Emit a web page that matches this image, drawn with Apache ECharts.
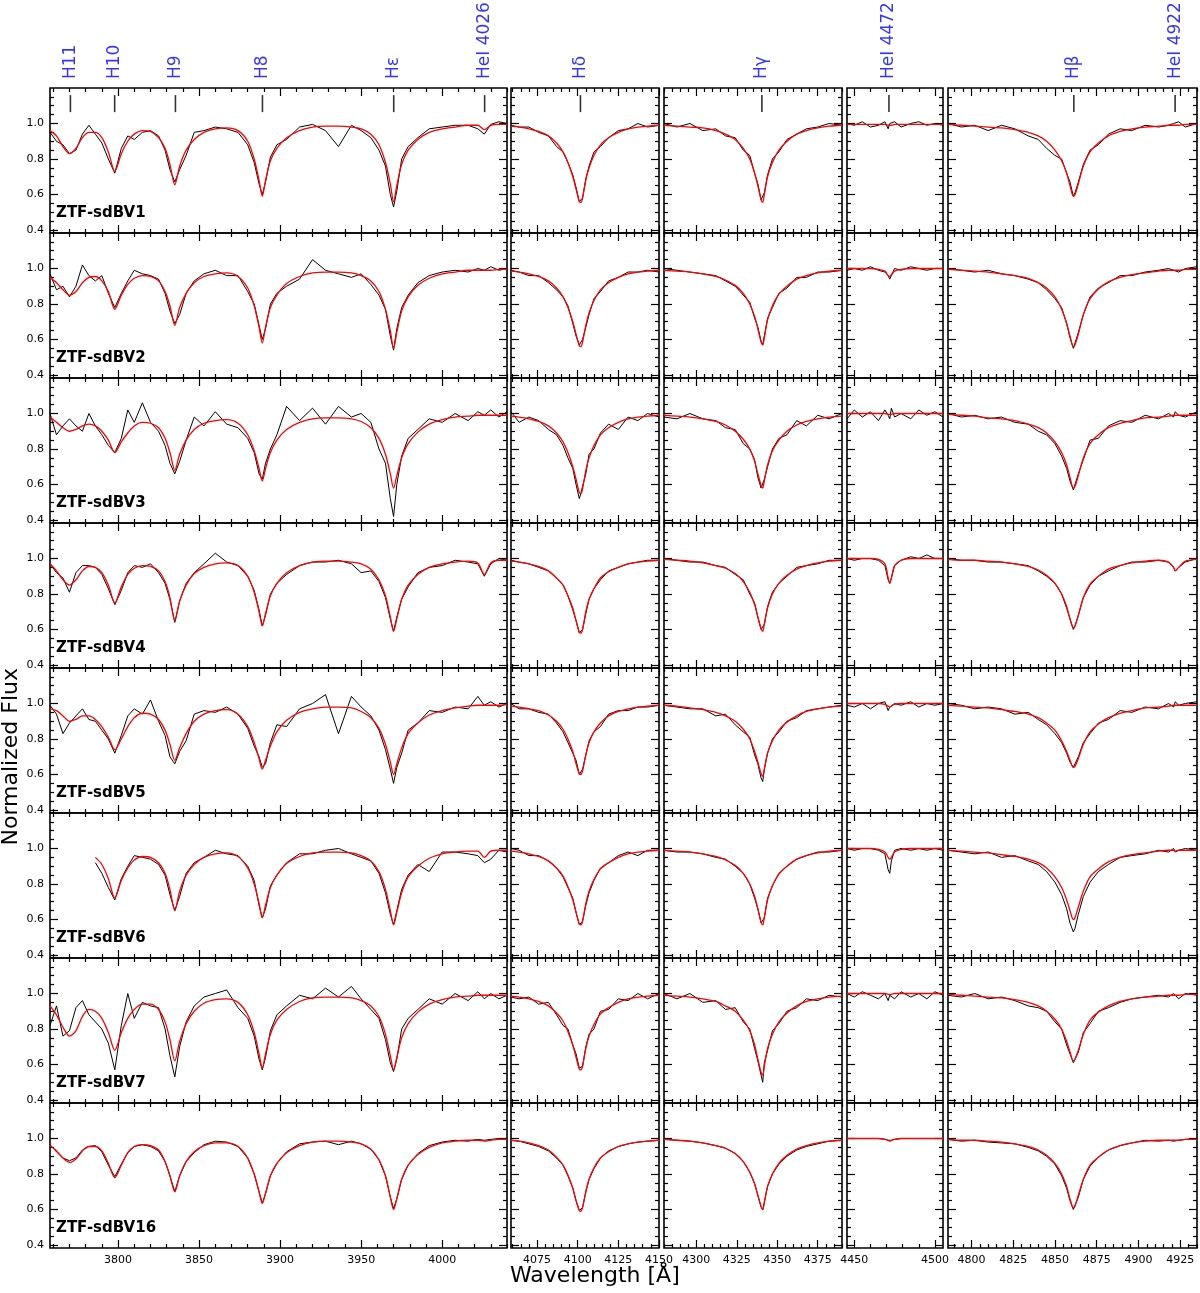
<!DOCTYPE html>
<html><head><meta charset="utf-8">
<script src="https://cdn.jsdelivr.net/npm/echarts@6/dist/echarts.min.js"></script>
<style>html,body{margin:0;padding:0;background:#fff}#c{width:1200px;height:1293px}</style>
</head><body><div id="c"></div>
<script>
// ---- data ----
const starNames = ["ZTF-sdBV1","ZTF-sdBV2","ZTF-sdBV3","ZTF-sdBV4","ZTF-sdBV5","ZTF-sdBV6","ZTF-sdBV7","ZTF-sdBV16"];
const xRanges = [[3758,4040],[4059,4150],[4280,4390],[4445.5,4505],[4786,4935]];
const majorTicks = [[3800,3850,3900,3950,4000],[4075,4100,4125,4150],[4300,4325,4350,4375],[4450,4500],[4800,4825,4850,4875,4900,4925]];
const yTickLabels = [0.4,0.6,0.8,1.0];
const lineNames = [["H11","H10","H9","H8","Hε","HeI 4026"],["Hδ"],["Hγ"],["HeI 4472"],["Hβ","HeI 4922"]];
const lineWaves = [[3770.6,3797.9,3835.4,3889.1,3970.1,4026.2],[4101.7],[4340.5],[4471.5],[4861.3,4921.9]];

const W1 = [3758,3762,3766,3770,3774,3778,3782,3786,3790,3794,3798,3802,3806,3810,3815,3820,3825,3829,3832,3835,3838,3842,3847,3853,3860,3867,3874,3880,3884,3887,3889,3891,3894,3898,3904,3912,3920,3928,3936,3944,3950,3956,3961,3965,3968,3970,3972,3975,3979,3985,3992,4000,4008,4016,4022,4026,4030,4035,4040];
const W2 = [4059,4064,4070,4076,4082,4087,4091,4094,4097,4099,4101,4102,4103,4105,4107,4110,4114,4119,4125,4131,4137,4143,4150];
const W3 = [4280,4288,4296,4304,4312,4318,4324,4329,4333,4336,4338,4340,4341,4342,4344,4347,4351,4356,4362,4368,4375,4382,4390];
const W4 = [4445.5,4450,4455,4460,4465,4469,4471,4472,4473,4475,4479,4485,4490,4495,4500,4505];
const W5 = [4786,4794,4802,4810,4818,4826,4834,4840,4845,4850,4854,4857,4859,4861,4862,4864,4867,4871,4876,4882,4889,4896,4904,4912,4918,4921,4922,4924,4928,4935];

const model1 = [
[.96,.93,.87,.83,.86,.92,.95,.95,.92,.84,.73,.83,.90,.94,.96,.955,.92,.86,.77,.655,.76,.85,.91,.95,.97,.975,.96,.90,.80,.68,.59,.68,.79,.86,.92,.96,.98,.985,.985,.98,.97,.94,.88,.78,.66,.56,.65,.77,.85,.91,.95,.97,.98,.99,.99,.965,.99,.995,.995],
[.95,.92,.88,.85,.87,.92,.95,.955,.93,.87,.77,.85,.91,.945,.96,.955,.93,.87,.79,.68,.78,.86,.92,.955,.97,.975,.955,.89,.79,.67,.58,.67,.78,.85,.915,.955,.975,.98,.98,.975,.96,.93,.87,.77,.65,.55,.64,.76,.84,.905,.945,.97,.98,.99,.99,.99,.99,.995,.995],
[.98,.95,.92,.90,.91,.93,.94,.93,.90,.85,.78,.84,.89,.93,.95,.945,.92,.86,.78,.68,.77,.85,.91,.945,.96,.965,.945,.88,.79,.69,.62,.69,.78,.85,.91,.95,.97,.975,.975,.97,.955,.92,.86,.77,.66,.58,.65,.75,.83,.895,.94,.965,.98,.985,.99,.99,.99,.99,.99],
[.97,.93,.88,.85,.88,.93,.955,.95,.92,.85,.75,.84,.91,.945,.96,.955,.93,.87,.78,.65,.76,.85,.915,.95,.97,.975,.96,.90,.81,.70,.62,.69,.79,.86,.92,.96,.98,.985,.985,.98,.97,.94,.88,.79,.67,.59,.66,.77,.85,.91,.95,.97,.98,.985,.975,.91,.975,.99,.99],
[.97,.96,.93,.90,.91,.93,.93,.91,.87,.81,.74,.80,.87,.92,.945,.94,.91,.85,.77,.68,.75,.83,.90,.94,.96,.965,.94,.87,.78,.69,.63,.68,.76,.84,.905,.95,.97,.98,.98,.975,.955,.92,.86,.77,.67,.60,.66,.75,.83,.89,.935,.96,.975,.985,.99,.99,.99,.99,.995],
[null,null,null,null,null,null,null,.95,.91,.83,.72,.82,.89,.935,.955,.95,.92,.86,.77,.65,.76,.85,.91,.95,.97,.975,.955,.89,.80,.69,.61,.68,.78,.85,.915,.955,.975,.98,.98,.975,.96,.93,.87,.77,.65,.57,.64,.75,.84,.90,.945,.97,.98,.985,.985,.95,.985,.99,.99],
[.93,.88,.81,.76,.79,.87,.91,.90,.86,.78,.68,.78,.86,.91,.94,.94,.91,.84,.74,.62,.73,.83,.90,.945,.965,.97,.95,.88,.78,.66,.58,.66,.77,.85,.91,.955,.975,.98,.98,.975,.96,.93,.87,.77,.65,.57,.64,.75,.83,.895,.94,.965,.98,.985,.99,.99,.99,.99,.99],
[.96,.93,.89,.865,.885,.93,.955,.955,.93,.86,.78,.85,.92,.955,.965,.96,.935,.87,.79,.70,.79,.87,.925,.96,.975,.975,.955,.89,.80,.70,.635,.69,.79,.86,.92,.96,.98,.985,.985,.98,.97,.94,.88,.79,.67,.60,.66,.77,.85,.91,.95,.975,.985,.99,.99,.985,.99,.995,.995]
];
const obs1 = [
[.95,.90,.88,.83,.85,.94,.99,.94,.89,.80,.72,.86,.93,.91,.95,.96,.93,.85,.74,.67,.74,.82,.95,.96,.98,.97,.95,.88,.78,.66,.60,.67,.81,.88,.91,.98,.995,.96,.87,.99,.96,.92,.85,.76,.60,.53,.62,.80,.87,.92,.97,.98,.99,.99,.97,.94,.995,1.01,1.0],
[.97,.88,.90,.84,.90,1.02,.96,.93,.96,.86,.78,.86,.93,.99,.97,.96,.94,.86,.76,.69,.74,.86,.93,.97,.99,.96,.96,.87,.80,.68,.60,.66,.80,.86,.90,.94,1.05,.99,.97,.95,.97,.91,.85,.77,.62,.54,.66,.78,.85,.92,.96,.98,.99,.98,1.0,.99,1.01,.99,1.0],
[1.0,.88,.93,.97,.93,.90,1.0,.93,.88,.82,.78,.86,1.02,.95,1.06,.95,.90,.82,.72,.66,.73,.85,.98,.93,1.01,.94,.92,.86,.78,.66,.63,.72,.80,.88,1.04,.96,1.03,.94,1.04,.98,1.0,.95,.80,.72,.52,.42,.60,.76,.86,.91,.97,.95,1.0,.96,1.01,.99,1.02,.98,1.01],
[.97,.92,.89,.81,.92,.96,.96,.95,.91,.83,.74,.82,.92,.96,.95,.97,.92,.86,.77,.64,.76,.86,.92,.97,1.03,.98,.96,.90,.82,.71,.62,.68,.80,.86,.91,.96,.98,.98,.99,.97,.92,.93,.87,.78,.66,.59,.67,.77,.84,.92,.95,.96,.99,.98,.97,.90,.97,1.0,.99],
[.99,.94,.83,.89,.93,.97,.91,.90,.85,.80,.72,.82,.93,.97,.94,1.02,.90,.82,.70,.66,.73,.79,.94,.96,.95,.98,.94,.86,.76,.70,.64,.66,.78,.88,.87,.97,1.0,1.05,.83,1.04,.98,.93,.85,.74,.63,.55,.64,.72,.85,.89,.96,.95,.98,.97,1.04,.99,1.01,.98,1.0],
[null,null,null,null,null,null,null,.92,.86,.78,.71,.83,.90,.96,.95,.94,.91,.85,.74,.65,.73,.86,.92,.95,.99,.97,.96,.90,.82,.68,.61,.66,.79,.85,.92,.97,.97,.99,1.0,.97,.95,.93,.86,.75,.63,.57,.65,.77,.85,.91,.87,.98,.98,.97,.96,.92,.94,.99,.98],
[.82,.93,.76,.79,.92,.96,.88,.84,.80,.72,.57,.82,1.0,.86,.95,.93,.92,.80,.65,.53,.70,.84,.93,.98,1.0,1.02,.92,.86,.76,.63,.57,.64,.79,.88,.93,.99,.97,1.03,.98,1.04,.97,.91,.86,.74,.61,.56,.63,.80,.86,.91,.97,.94,1.0,.96,1.01,.97,1.0,.97,.99],
[.965,.925,.89,.875,.89,.935,.955,.96,.925,.85,.785,.855,.92,.955,.965,.955,.93,.87,.79,.70,.79,.87,.92,.965,.985,.98,.955,.89,.80,.70,.635,.69,.79,.86,.925,.97,.98,.985,.965,.985,.97,.94,.88,.79,.67,.605,.66,.77,.85,.915,.96,.98,.99,.985,.995,.99,.995,1.0,1.0]
];
const model2 = [
[.985,.98,.97,.955,.93,.89,.84,.78,.70,.63,.56,.555,.58,.68,.75,.82,.88,.92,.95,.97,.98,.985,.99],
[.985,.98,.97,.955,.93,.89,.84,.78,.70,.63,.565,.56,.585,.68,.75,.82,.88,.92,.95,.97,.98,.985,.99],
[.985,.98,.97,.955,.93,.89,.84,.78,.70,.63,.555,.55,.575,.68,.75,.82,.88,.92,.95,.97,.98,.985,.99],
[.985,.98,.97,.955,.93,.89,.85,.79,.72,.65,.585,.58,.60,.70,.77,.83,.89,.925,.95,.97,.98,.985,.99],
[.985,.98,.97,.96,.935,.90,.855,.80,.73,.66,.605,.60,.62,.71,.78,.84,.89,.93,.955,.97,.98,.985,.99],
[.985,.98,.97,.955,.93,.89,.845,.785,.71,.64,.575,.57,.59,.69,.76,.825,.885,.92,.95,.97,.98,.985,.99],
[.985,.98,.97,.955,.93,.89,.845,.785,.71,.64,.575,.57,.59,.69,.76,.825,.885,.92,.95,.97,.98,.985,.99],
[.99,.985,.975,.96,.935,.895,.85,.795,.72,.65,.595,.59,.61,.70,.77,.835,.89,.925,.955,.97,.98,.985,.99]
];
const obs2 = [
[.99,.98,.98,.95,.93,.87,.84,.78,.71,.64,.56,.56,.58,.69,.76,.84,.87,.92,.96,.97,1.0,.98,.99],
[.99,.98,.96,.96,.92,.88,.84,.79,.69,.62,.57,.56,.60,.67,.74,.83,.87,.93,.95,.98,.98,.99,.98],
[1.01,.95,.98,.96,.91,.88,.82,.75,.69,.60,.52,.55,.59,.66,.77,.80,.89,.94,.91,.98,.96,1.0,.98],
[.99,.98,.97,.95,.93,.89,.85,.79,.71,.65,.58,.58,.60,.69,.77,.83,.88,.93,.95,.97,.98,.99,.99],
[1.0,.97,.97,.95,.94,.89,.84,.78,.72,.68,.60,.60,.63,.71,.79,.84,.87,.94,.96,.96,.98,.98,.99],
[1.0,.99,.96,.96,.93,.89,.84,.78,.72,.64,.57,.57,.59,.68,.75,.82,.89,.92,.96,.98,.96,.99,.99],
[.98,.97,.98,.94,.95,.88,.82,.80,.71,.66,.58,.57,.59,.70,.77,.80,.90,.91,.97,.96,1.0,.97,1.0],
[.99,.985,.97,.955,.93,.89,.85,.79,.72,.65,.595,.59,.61,.70,.77,.83,.89,.93,.955,.97,.98,.985,.99]
];
const model3 = [
[.99,.985,.98,.975,.96,.94,.91,.86,.80,.72,.65,.57,.555,.60,.70,.78,.85,.90,.94,.96,.975,.985,.99],
[.99,.985,.98,.97,.955,.935,.905,.86,.80,.73,.66,.585,.57,.61,.71,.79,.855,.90,.94,.96,.975,.985,.99],
[.99,.985,.98,.97,.955,.935,.90,.855,.80,.73,.66,.595,.58,.62,.71,.79,.85,.90,.935,.955,.97,.98,.985],
[.995,.99,.985,.975,.96,.945,.915,.87,.81,.74,.67,.605,.59,.63,.72,.80,.86,.905,.94,.96,.975,.985,.99],
[.99,.985,.975,.965,.95,.93,.90,.855,.80,.73,.67,.605,.59,.63,.72,.79,.85,.895,.93,.955,.97,.98,.985],
[.99,.985,.98,.97,.955,.935,.905,.86,.80,.73,.66,.585,.57,.61,.71,.79,.855,.90,.94,.96,.975,.985,.99],
[.99,.985,.98,.97,.955,.93,.90,.85,.79,.71,.63,.555,.54,.59,.69,.77,.84,.89,.93,.955,.97,.98,.985],
[.995,.99,.985,.975,.96,.945,.915,.87,.81,.745,.68,.615,.60,.64,.73,.80,.86,.905,.94,.96,.975,.985,.99]
];
const obs3 = [
[1.0,.98,1.0,.96,.97,.93,.92,.85,.82,.72,.66,.57,.56,.61,.71,.80,.84,.91,.94,.97,.98,1.0,.99],
[1.0,.99,.98,.97,.96,.93,.90,.85,.81,.72,.67,.59,.57,.62,.72,.78,.86,.89,.95,.95,.98,.98,.99],
[.98,.97,1.0,.97,.96,.92,.91,.83,.80,.74,.64,.58,.57,.63,.70,.80,.86,.88,.96,.93,.99,.97,1.0],
[1.0,.99,.98,.98,.96,.95,.91,.88,.80,.75,.67,.60,.59,.63,.73,.81,.86,.90,.95,.96,.97,.99,.99],
[.99,.98,.97,.97,.93,.94,.88,.84,.81,.71,.66,.58,.56,.63,.72,.80,.84,.90,.92,.96,.97,.98,.99],
[.99,.98,.98,.97,.95,.94,.90,.86,.80,.72,.66,.58,.57,.61,.72,.79,.86,.90,.94,.96,.98,.98,.99],
[1.0,.97,1.0,.95,.96,.91,.92,.84,.80,.69,.62,.54,.50,.61,.68,.79,.83,.90,.92,.97,.96,.99,.98],
[.995,.99,.985,.975,.96,.945,.915,.87,.81,.745,.68,.615,.60,.64,.73,.80,.855,.90,.935,.955,.97,.985,.99]
];
const model4 = [
[.995,.995,.995,.995,.995,.995,.99,.99,.99,.995,.995,.995,.995,.995,.995,.995],
[1,1,1,1,.995,.985,.96,.955,.965,.985,.995,1,1,1,1,1],
[1,1,1,1,1,1,.995,.995,.995,1,1,1,1,1,1,1],
[1,1,1,1,.995,.97,.89,.86,.89,.96,.99,1,1,1,1,1],
[1,1,1,1,1,.995,.985,.98,.985,.995,1,1,1,1,1,1],
[1,1,1,1,.995,.98,.95,.94,.95,.98,.995,1,1,1,1,1],
[1,1,1,1,1,1,.995,.995,.995,1,1,1,1,1,1,1],
[1,1,1,1,1,.995,.99,.985,.99,.995,1,1,1,1,1,1]
];
const obs4 = [
[1.0,.99,1.01,.98,.99,1.01,.97,1.0,.99,1.01,.98,1.0,1.01,.99,1.0,.99],
[.99,1.0,.99,1.01,.99,.98,.96,.94,.96,1.0,.99,1.01,1.0,.99,1.0,1.0],
[.97,1.02,.98,1.01,.96,1.02,.99,.97,1.03,.98,1.0,.97,1.02,.99,1.01,.98],
[1.0,.99,1.0,1.0,.99,.96,.88,.86,.89,.96,.99,1.01,1.0,1.02,1.0,1.0],
[.99,.98,1.0,.97,1.0,1.01,.96,.98,.97,1.0,.99,1.01,.98,1.0,.99,1.0],
[1.0,.99,1.0,1.0,.99,.97,.88,.86,.93,.99,1.0,.99,1.0,.99,1.0,.99],
[1.0,.98,1.01,.99,.97,1.0,.96,.99,1.0,.97,1.01,.98,1.0,.97,1.01,.99],
[1.0,1.0,1.0,1.0,1.0,.995,.99,.985,.99,.995,1.0,1.0,1.0,1.0,1.0,1.0]
];
const model5 = [
[.995,.99,.985,.98,.975,.965,.95,.93,.90,.85,.79,.72,.65,.59,.60,.66,.76,.84,.89,.93,.955,.97,.98,.985,.99,.99,.99,.99,.995,.995],
[.995,.99,.985,.98,.97,.96,.945,.92,.89,.84,.77,.69,.62,.56,.57,.63,.74,.83,.885,.925,.95,.965,.975,.985,.99,.99,.99,.99,.995,.995],
[.995,.99,.985,.975,.97,.96,.94,.92,.89,.84,.78,.71,.64,.58,.59,.65,.75,.83,.88,.92,.945,.96,.975,.98,.985,.99,.99,.99,.99,.99],
[.995,.99,.99,.985,.98,.97,.955,.935,.905,.86,.80,.73,.66,.61,.62,.68,.78,.855,.90,.94,.96,.975,.985,.99,.98,.95,.93,.95,.985,.995],
[.99,.985,.98,.975,.965,.955,.94,.92,.89,.85,.79,.73,.68,.64,.645,.69,.77,.84,.885,.92,.945,.96,.975,.98,.985,.99,.99,.99,.99,.99],
[.99,.985,.98,.975,.965,.955,.94,.92,.89,.84,.78,.71,.65,.60,.61,.67,.76,.84,.885,.925,.95,.965,.975,.985,.99,.99,.985,.99,.99,.99],
[.995,.99,.985,.98,.975,.965,.95,.93,.90,.855,.80,.73,.67,.62,.63,.68,.77,.85,.895,.93,.955,.97,.98,.985,.99,.99,.99,.99,.995,.995],
[.995,.99,.99,.985,.98,.97,.955,.935,.905,.86,.80,.73,.66,.61,.62,.68,.77,.85,.895,.935,.96,.975,.985,.99,.99,.99,.99,.99,.995,.995]
];
const obs5 = [
[1.0,.98,.99,.96,.99,.97,.93,.91,.86,.82,.80,.72,.67,.59,.61,.67,.77,.85,.88,.94,.97,.96,.99,.98,.99,1.0,.99,1.01,.98,1.0],
[1.0,.99,.98,.99,.97,.96,.94,.92,.88,.83,.78,.69,.61,.55,.56,.64,.74,.84,.89,.92,.96,.96,.98,.99,1.0,.99,1.0,.98,1.0,1.01],
[1.0,.98,.99,.97,.98,.95,.94,.90,.88,.83,.76,.69,.62,.57,.58,.66,.74,.85,.86,.93,.96,.95,.99,.97,1.0,.98,1.01,.99,.98,1.01],
[1.0,.99,.99,.98,.98,.97,.96,.93,.90,.86,.80,.72,.66,.60,.62,.68,.78,.85,.90,.93,.96,.98,.98,.99,.98,.95,.93,.95,.98,1.0],
[1.0,.99,.97,.98,.97,.94,.95,.91,.88,.83,.78,.72,.67,.64,.64,.70,.78,.83,.89,.91,.96,.95,.98,.97,1.0,.98,1.01,.99,1.0,1.01],
[.99,.98,.97,.98,.95,.96,.93,.91,.87,.81,.74,.66,.58,.53,.55,.63,.73,.81,.87,.91,.95,.96,.97,.99,.98,1.0,.98,.99,1.0,.99],
[.99,.98,1.0,.97,.98,.96,.93,.92,.90,.84,.80,.71,.66,.61,.62,.67,.78,.83,.90,.92,.95,.97,.98,.99,.98,1.0,.99,.97,1.0,.99],
[.995,.985,.99,.98,.975,.97,.95,.93,.90,.855,.79,.72,.65,.60,.61,.67,.77,.845,.895,.935,.96,.975,.99,.985,.99,.985,.99,.99,.995,1.0]
];

// ---- layout ----
const Ws = [W1,W2,W3,W4,W5];
const models = [model1,model2,model3,model4,model5];
const obss = [obs1,obs2,obs3,obs4,obs5];
const colL = [50,511,664,847,948], colR = [507,659,842,943,1197];
const top0 = 88, rowH = 145, yMin = 0.383, yMax = 1.2;
const minorStep = [10,5,5,10,5];

function minorVals(c){
  const out=[]; const s=minorStep[c]; const [a,b]=xRanges[c];
  for(let v=Math.ceil(a/s)*s; v<=b+1e-9; v+=s){ if(!majorTicks[c].includes(v)) out.push(v); }
  return out;
}
const yMinor=[]; for(let v=0.45; v<1.19; v+=0.05){ const r=Math.round(v*100)/100; if(![0.6,0.8,1.0].includes(r)) yMinor.push(r); }

const grid=[], xAxis=[], yAxis=[], series=[], graphic=[];
const FONT='DejaVu Sans';
for(let r=0;r<8;r++){
  for(let c=0;c<5;c++){
    const g=grid.length;
    grid.push({left:colL[c], top:top0+r*rowH, width:colR[c]-colL[c], height:rowH, show:true, borderColor:'#000', borderWidth:1.6, backgroundColor:'transparent'});
    const xi=xAxis.length, yi=yAxis.length;
    const mk=(pos,vals,len,lab)=>({type:'value',gridIndex:g,position:pos,min:xRanges[c][0],max:xRanges[c][1],
      axisLine:{show:false},splitLine:{show:false},
      axisTick:{show:true,inside:true,length:len,customValues:vals,lineStyle:{color:'#000',width:1.2}},
      axisLabel:{show:lab,customValues:majorTicks[c],fontSize:11,color:'#000',fontFamily:FONT,margin:7,formatter:v=>String(v)}});
    xAxis.push(mk('bottom',majorTicks[c],8,r===7), mk('bottom',minorVals(c),4,false), mk('top',majorTicks[c],8,false), mk('top',minorVals(c),4,false));
    const mky=(pos,vals,len,lab)=>({type:'value',gridIndex:g,position:pos,min:yMin,max:yMax,
      axisLine:{show:false},splitLine:{show:false},
      axisTick:{show:true,inside:true,length:len,customValues:vals,lineStyle:{color:'#000',width:1.2}},
      axisLabel:{show:lab,customValues:yTickLabels,fontSize:11,color:'#000',fontFamily:FONT,margin:6,formatter:v=>v.toFixed(1)}});
    yAxis.push(mky('left',yTickLabels,8,c===0), mky('left',yMinor,4,false), mky('right',yTickLabels,8,false), mky('right',yMinor,4,false));
    const W=Ws[c];
    series.push({type:'line',xAxisIndex:xi,yAxisIndex:yi,showSymbol:false,symbol:'none',animation:false,
      lineStyle:{color:'#000',width:1},data:W.map((w,i)=>[w,obss[c][r][i]])});
    series.push({type:'line',xAxisIndex:xi,yAxisIndex:yi,showSymbol:false,symbol:'none',animation:false,smooth:0.3,
      lineStyle:{color:'#ff0000',width:1.3},data:W.map((w,i)=>[w,models[c][r][i]])});
    if(r===0){
      series.push({type:'scatter',xAxisIndex:xi,yAxisIndex:yi,animation:false,symbol:'rect',symbolSize:[1.6,17],
        itemStyle:{color:'#000'},data:lineWaves[c].map(w=>[w,1.112])});
      series.push({type:'scatter',xAxisIndex:xi,yAxisIndex:yi,animation:false,symbolSize:0,
        label:{show:true,position:'top',distance:9,rotate:90,align:'left',verticalAlign:'middle',color:'#0000ff',fontSize:17,fontFamily:FONT,
          formatter:p=>lineNames[c][p.dataIndex]},
        data:lineWaves[c].map(w=>[w,yMax])});
    }
  }
  graphic.push({type:'text',left:56,top:top0+r*rowH+rowH-27,style:{text:starNames[r],font:'bold 15px "DejaVu Sans"',fill:'#000'}});
}
graphic.push({type:'text',left:0,top:668,rotation:Math.PI/2,originX:0,originY:0,
  style:{text:'Normalized Flux',font:'22px "DejaVu Sans"',fill:'#000',x:0,y:0,align:'center',verticalAlign:'top'},x:2,y:668});
graphic.push({type:'text',left:510,top:1265,style:{text:'Wavelength [Å]',font:'22px "DejaVu Sans"',fill:'#000'}});

const chart=echarts.init(document.getElementById('c'),null,{renderer:'canvas'});
chart.setOption({animation:false,grid,xAxis,yAxis,series,graphic});
</script></body></html>
